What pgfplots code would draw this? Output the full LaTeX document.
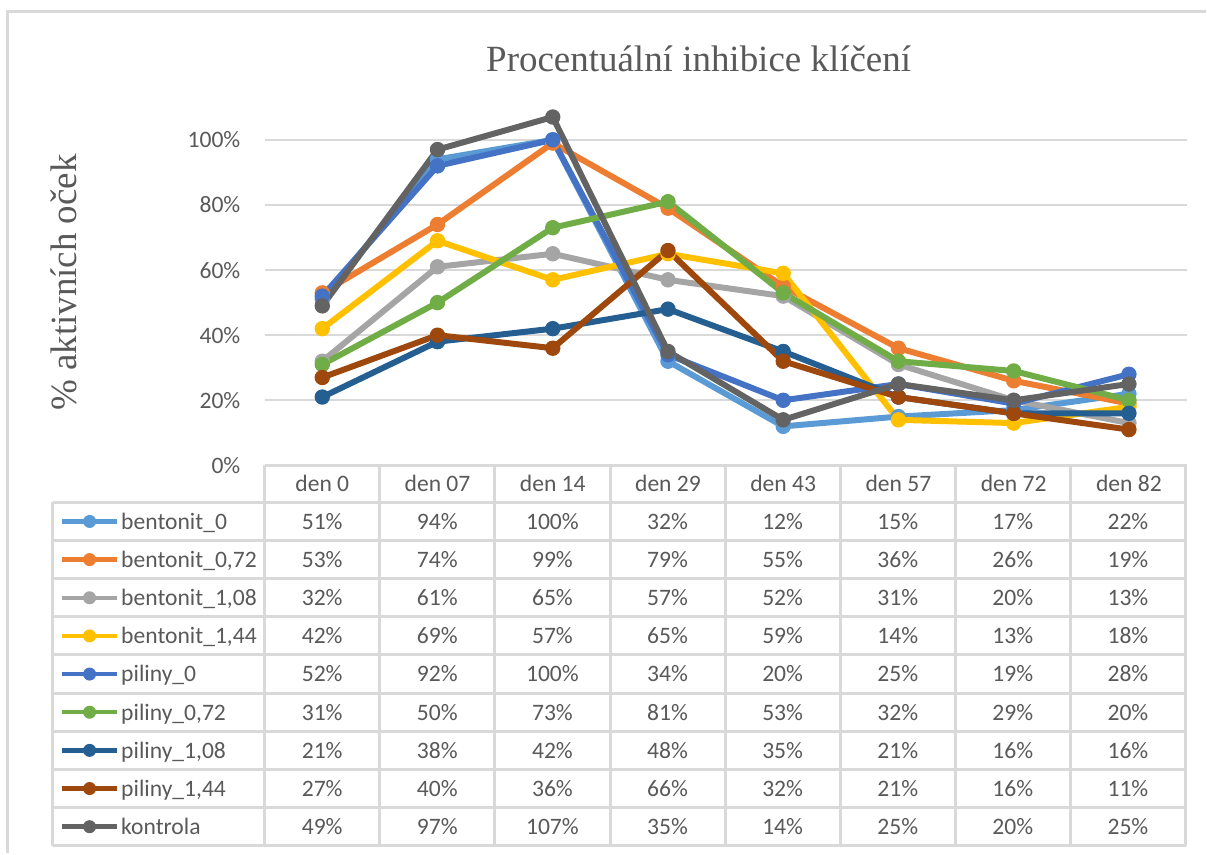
\documentclass[border=0pt]{standalone}
\usepackage{pgfplots}
\usepackage{pgfplotstable}
\pgfplotsset{compat=1.18}
\usepackage{fontspec}
\setmainfont{Carlito}
\newfontfamily\seriffont{Liberation Serif}
\definecolor{txt}{HTML}{595959}
\definecolor{gridc}{HTML}{D9D9D9}
\definecolor{c1}{HTML}{5B9BD5}
\definecolor{c2}{HTML}{ED7D31}
\definecolor{c3}{HTML}{A5A5A5}
\definecolor{c4}{HTML}{FFC000}
\definecolor{c5}{HTML}{4472C4}
\definecolor{c6}{HTML}{70AD47}
\definecolor{c7}{HTML}{255E91}
\definecolor{c8}{HTML}{9E480E}
\definecolor{c9}{HTML}{636363}

\pgfplotstableread{
x b0 b072 b108 b144 p0 p072 p108 p144 k
0 0.51 0.53 0.32 0.42 0.52 0.31 0.21 0.27 0.49
1 0.94 0.74 0.61 0.69 0.92 0.50 0.38 0.40 0.97
2 1.00 0.99 0.65 0.57 1.00 0.73 0.42 0.36 1.07
3 0.32 0.79 0.57 0.65 0.34 0.81 0.48 0.66 0.35
4 0.12 0.55 0.52 0.59 0.20 0.53 0.35 0.32 0.14
5 0.15 0.36 0.31 0.14 0.25 0.32 0.21 0.21 0.25
6 0.17 0.26 0.20 0.13 0.19 0.29 0.16 0.16 0.20
7 0.22 0.19 0.13 0.18 0.28 0.20 0.16 0.11 0.25
}\datatab

\newcommand\tabfont{\fontsize{11.8}{14}\selectfont}

\begin{document}
\begin{tikzpicture}
\path (0,0) rectangle (603.5pt,427pt);
\begin{axis}[
  at={(132.5pt,194pt)}, anchor=south west, scale only axis,
  width=461.5pt, height=195.6pt,
  xmin=-0.5, xmax=7.5, ymin=0, ymax=1.2,
  xtick={0,1,2,3,4,5,6,7},
  xticklabels={den 0,den 07,den 14,den 29,den 43,den 57,den 72,den 82},
  xticklabel style={anchor=base, inner sep=0pt, yshift=-12.85pt, font=\tabfont, text=txt},
  ytick={0,0.2,0.4,0.6,0.8,1},
  yticklabels={0\%,20\%,40\%,60\%,80\%,100\%},
  yticklabel style={anchor=east, inner sep=0pt, xshift=-12pt, font=\tabfont, text=txt},
  ymajorgrids, major grid style={draw=gridc, line width=1pt},
  axis line style={draw=none}, major tick length=0pt,
  clip=false,
  every axis plot/.append style={line width=3pt, mark=*, mark size=3.6pt,
     mark options={solid, line width=0.5pt}, line join=round},
  legend style={at={(axis description cs:-0.2221,-0.0946)}, anchor=north west,
     draw=none, fill=none, inner sep=0pt, outer sep=0pt, row sep=0pt, column sep=1pt,
     font=\tabfont, text=txt,
     nodes={inner sep=0pt, text height=13.5pt, text depth=5.6pt},
     cells={anchor=west}},
  legend image code/.code={\draw[mark repeat=2, mark phase=2, #1, line width=2.2pt, mark size=3pt, mark options={line width=0.5pt}]
     plot coordinates {(0pt,0pt) (13.75pt,0pt) (27.5pt,0pt)};},
]
\addplot[color=c1] table[x=x,y=b0]{\datatab}; \addlegendentry{bentonit\_0}
\addplot[color=c2] table[x=x,y=b072]{\datatab}; \addlegendentry{bentonit\_0,72}
\addplot[color=c3] table[x=x,y=b108]{\datatab}; \addlegendentry{bentonit\_1,08}
\addplot[color=c4] table[x=x,y=b144]{\datatab}; \addlegendentry{bentonit\_1,44}
\addplot[color=c5] table[x=x,y=p0]{\datatab}; \addlegendentry{piliny\_0}
\addplot[color=c6] table[x=x,y=p072]{\datatab}; \addlegendentry{piliny\_0,72}
\addplot[color=c7] table[x=x,y=p108]{\datatab}; \addlegendentry{piliny\_1,08}
\addplot[color=c8] table[x=x,y=p144]{\datatab}; \addlegendentry{piliny\_1,44}
\addplot[color=c9] table[x=x,y=k]{\datatab}; \addlegendentry{kontrola}
\end{axis}
\begin{scope}[x=0.5pt,y=-0.5pt,shift={(0pt,427pt)}]
  % outer chart border
  \draw[gridc, line width=1.5pt] (8,854) -- (8,12) -- (1207,12);
  % table grid
  \begin{scope}[gridc, line width=1.5pt]
    \draw (265,466) -- (1187,466);
    \foreach \k in {0,...,9} {\draw (53,503+38.2*\k) -- (1187,503+38.2*\k);}
    \draw (53,503) -- (53,847);
    \foreach \i in {0,...,8} {\draw (265+115.25*\i,466) -- (265+115.25*\i,847);}
  \end{scope}
  % table values
  \foreach \row [count=\r from 0] in {
     {51,94,100,32,12,15,17,22},
     {53,74,99,79,55,36,26,19},
     {32,61,65,57,52,31,20,13},
     {42,69,57,65,59,14,13,18},
     {52,92,100,34,20,25,19,28},
     {31,50,73,81,53,32,29,20},
     {21,38,42,48,35,21,16,16},
     {27,40,36,66,32,21,16,11},
     {49,97,107,35,14,25,20,25}} {
    \foreach \v [count=\c from 0] in \row {
      \node[anchor=base, inner sep=0pt, font=\tabfont, text=txt] at (265+115.25*\c+57.6, 530+38.2*\r) {\v\%};
    }
  }
  % title
  \node[anchor=base, inner sep=0pt, font=\seriffont\fontsize{18.5}{22}\selectfont, text=txt] at (699.5,71.7) {Procentuální inhibice klíčení};
  % y label
  \node[anchor=base, rotate=90, inner sep=0pt, font=\seriffont\fontsize{18.5}{22}\selectfont, text=txt] at (77,283) {\% aktivních oček};
\end{scope}
\end{tikzpicture}
\end{document}
